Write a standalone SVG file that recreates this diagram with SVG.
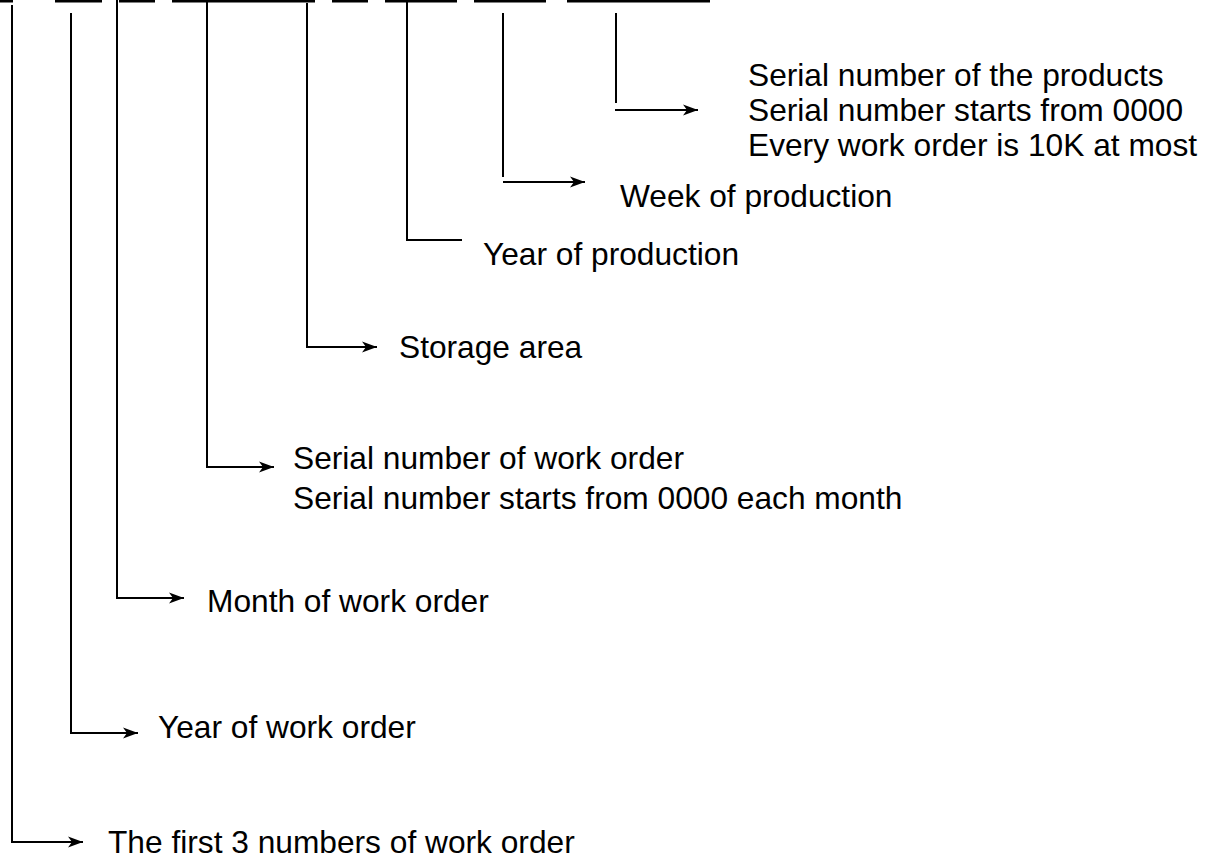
<svg xmlns="http://www.w3.org/2000/svg" width="1210" height="858" viewBox="0 0 1210 858">
<style>
.ln{stroke:#000;stroke-width:2;fill:none}
.top{stroke:#000;stroke-width:3;fill:none}
.t{font-family:"Liberation Sans",Arial,sans-serif;font-size:31.7px;fill:#000}
</style>
<defs>
<marker id="ah" markerUnits="userSpaceOnUse" markerWidth="17" markerHeight="12" refX="15" refY="6" orient="auto">
<path d="M0,0.5 L15,6 L0,11.5 L4,6 Z" fill="#000"/>
</marker>
</defs>
<rect width="1210" height="858" fill="#fff"/>
<g id="code">
<line class="top" x1="0" y1="1" x2="13" y2="1"/>
<line class="top" x1="55" y1="1" x2="102" y2="1"/>
<line class="top" x1="119" y1="1" x2="155" y2="1"/>
<line class="top" x1="172" y1="1" x2="315" y2="1"/>
<line class="top" x1="332" y1="1" x2="368" y2="1"/>
<line class="top" x1="385" y1="1" x2="457" y2="1"/>
<line class="top" x1="474" y1="1" x2="546" y2="1"/>
<line class="top" x1="567" y1="1" x2="710" y2="1"/>
</g>
<g id="connectors">
<path class="ln" d="M12,5 V842 H83" marker-end="url(#ah)"/>
<path class="ln" d="M71,13 V733 H138" marker-end="url(#ah)"/>
<path class="ln" d="M117,0 V598 H184" marker-end="url(#ah)"/>
<path class="ln" d="M207,2 V467 H274" marker-end="url(#ah)"/>
<path class="ln" d="M307,3 V347 H377" marker-end="url(#ah)"/>
<path class="ln" d="M407,0 V240 H462"/>
<path class="ln" d="M503,13 V177"/>
<path class="ln" d="M503,182 H585" marker-end="url(#ah)"/>
<path class="ln" d="M616,13 V103"/>
<path class="ln" d="M615,110 H698" marker-end="url(#ah)"/>
</g>
<g id="n-products">
<text class="t" x="748" y="86">Serial number of the products</text>
<text class="t" x="748" y="121">Serial number starts from 0000</text>
<text class="t" x="748" y="156">Every work order is 10K at most</text>
</g>
<g id="n-week"><text class="t" x="620" y="207">Week of production</text></g>
<g id="n-yearprod"><text class="t" x="483" y="265">Year of production</text></g>
<g id="n-storage"><text class="t" x="399" y="358">Storage area</text></g>
<g id="n-serialwo">
<text class="t" x="293" y="469">Serial number of work order</text>
<text class="t" x="293" y="509">Serial number starts from 0000 each month</text>
</g>
<g id="n-month"><text class="t" x="207" y="612">Month of work order</text></g>
<g id="n-yearwo"><text class="t" x="158" y="738">Year of work order</text></g>
<g id="n-first3"><text class="t" x="108" y="853">The first 3 numbers of work order</text></g>
</svg>
